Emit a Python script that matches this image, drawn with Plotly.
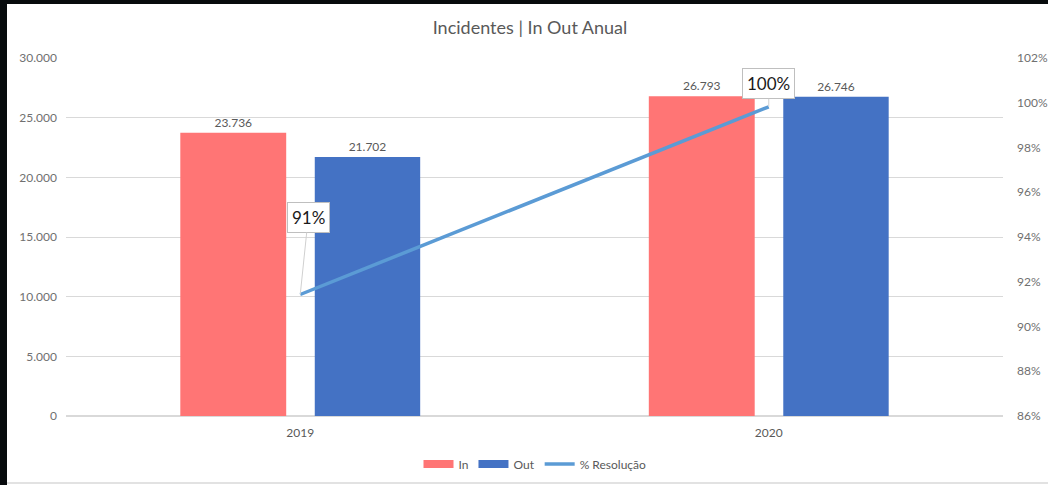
import plotly.graph_objects as go

# Annual incident volumes
anos = ["2019", "2020"]
entrada = [23736, 26793]
saida = [21702, 26746]
resolucao = [0.9143, 0.9982]

W, H = 1048, 485
L, R, T, B = 66, 45, 58, 69
pw, ph = W - L - R, H - T - B

def px_x(p):
    return (p - L) / pw

def px_y(p):
    return (H - B - p) / ph

GREY = "#595959"
FONT = "Lato, 'Open Sans', sans-serif"
C_IN, C_OUT, C_RES = "#FF7575", "#4472C4", "#5B9BD5"

fig = go.Figure()

fig.add_trace(go.Bar(
    x=anos, y=entrada, name="In", showlegend=False,
    marker=dict(color=C_IN, line=dict(width=0)),
    width=0.226, offset=-0.256,
    text=entrada, texttemplate="%{y:,}", textposition="outside",
    textfont=dict(size=12, color=GREY), cliponaxis=False,
))
fig.add_trace(go.Bar(
    x=anos, y=saida, name="Out", showlegend=False,
    marker=dict(color=C_OUT, line=dict(width=0)),
    width=0.225, offset=0.031,
    text=saida, texttemplate="%{y:,}", textposition="outside",
    textfont=dict(size=12, color=GREY), cliponaxis=False,
))
fig.add_trace(go.Scatter(
    x=anos, y=resolucao, name="% Resolução", yaxis="y2", showlegend=False,
    mode="lines", line=dict(color=C_RES, width=3.5),
))

# Legend entries with wide flat swatches
for name, color, w in [("In", C_IN, 8), ("Out", C_OUT, 8), ("% Resolução", C_RES, 3.5)]:
    fig.add_trace(go.Scatter(
        x=[None], y=[None], name=name, mode="lines",
        line=dict(color=color, width=w), showlegend=True,
    ))

# Percentage callouts on the resolution line (x given as category index)
offsets = [(8, -77), (0, -23)]
for i, (v, (ax, ay)) in enumerate(zip(resolucao, offsets)):
    fig.add_annotation(
        x=i, y=v, xref="x", yref="y2",
        text=f"{v:.0%}", showarrow=True, arrowhead=0, arrowwidth=1,
        arrowcolor="#d0d0d0", ax=ax, ay=ay,
        font=dict(size=17, color="#1a1a1a", family=FONT),
        bgcolor="white", bordercolor="#bfbfbf", borderwidth=1, borderpad=4,
    )

# Window frame: dark edge with a white chart card and a thin bottom rule
fig.add_shape(type="rect", xref="paper", yref="paper", layer="below",
              x0=px_x(7), x1=px_x(W + 2), y0=px_y(H + 2), y1=px_y(4),
              fillcolor="white", line=dict(width=0))
fig.add_shape(type="line", xref="paper", yref="paper", layer="below",
              x0=px_x(7), x1=px_x(W + 2), y0=px_y(483), y1=px_y(483),
              line=dict(color="#d9d9d9", width=1.5))

fig.update_layout(
    width=W, height=H,
    margin=dict(l=L, r=R, t=T, b=B, autoexpand=False),
    paper_bgcolor="#070b0d", plot_bgcolor="white",
    separators=",.",
    font=dict(family=FONT, color=GREY, size=12),
    title=dict(text="Incidentes | In Out Anual", x=530 / W, xanchor="center",
               y=1 - 28 / H, yanchor="middle",
               font=dict(size=18, color=GREY, family=FONT)),
    barmode="overlay",
    showlegend=True,
    legend=dict(orientation="h", x=px_x(535), xanchor="center",
                y=px_y(464), yanchor="middle",
                font=dict(size=12, color=GREY), bgcolor="rgba(0,0,0,0)",
                traceorder="normal", itemclick=False),
    xaxis=dict(type="category", categoryorder="array", categoryarray=anos,
               range=[-0.5, 1.5], autorange=False,
               showgrid=False, showline=False, ticks="",
               tickfont=dict(size=12, color=GREY), ticklabelstandoff=8),
    yaxis=dict(range=[0, 30000], dtick=5000, tickformat=",d",
               gridcolor="#d9d9d9", gridwidth=1, zeroline=True,
               zerolinecolor="#d9d9d9", showline=False, ticks="",
               tickfont=dict(size=12, color="#707070"), ticklabelstandoff=8),
    yaxis2=dict(range=[0.86, 1.02], dtick=0.02, tickformat=".0%",
                overlaying="y", side="right", showgrid=False,
                zeroline=False, showline=False, ticks="",
                tickfont=dict(size=12, color="#707070"), ticklabelstandoff=13),
)

fig.write_html("out.html")
